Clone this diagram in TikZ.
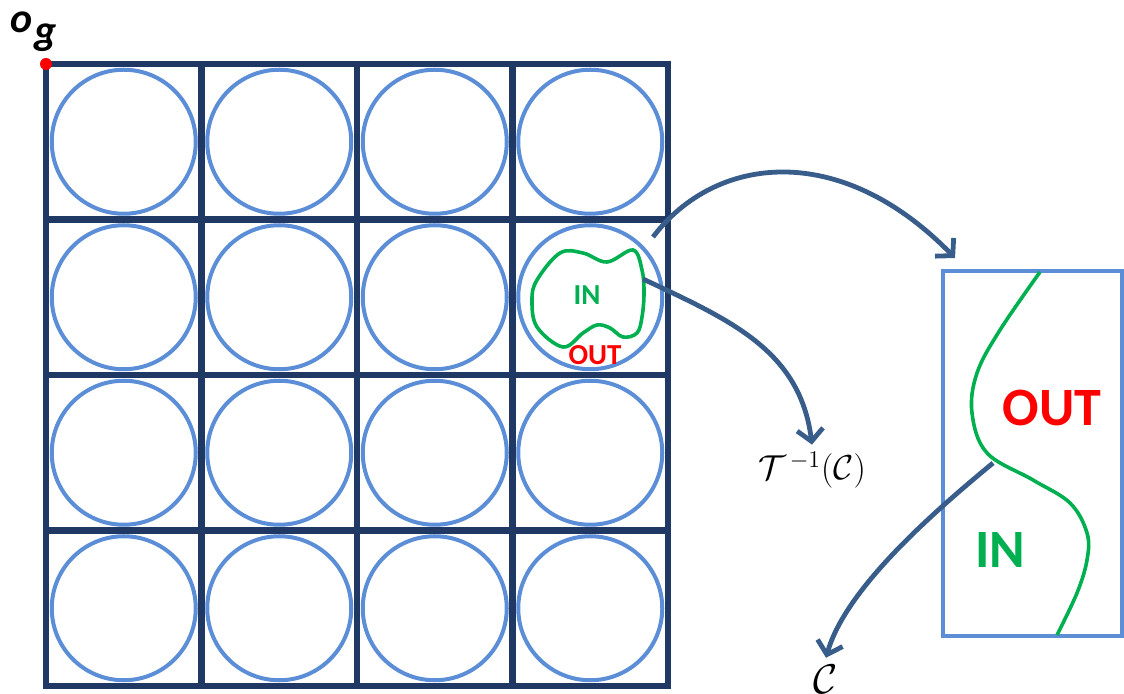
\documentclass[tikz,border=0pt]{standalone}
\usepackage{amsmath}
\usepackage{fontspec}
\setmainfont{Carlito}
\usetikzlibrary{arrows.meta,positioning,calc}
\definecolor{gridnavy}{RGB}{31,56,100}
\definecolor{cellblue}{RGB}{91,142,214}
\definecolor{arrowblue}{RGB}{56,93,138}
\definecolor{ingreen}{RGB}{0,176,80}
\definecolor{outred}{RGB}{255,0,0}
\tikzset{
  gridline/.style={gridnavy,line width=3.1pt,line cap=rect},
  cellcircle/.style={cellblue,line width=2pt},
  maparrow/.style={->,arrowblue,line width=2.4pt},
  boundary/.style={ingreen,line width=1.8pt},
  smalltag/.style={font=\fontsize{14.5}{14.5}\selectfont\bfseries,inner sep=0pt},
  bigtag/.style={font=\fontsize{27}{27}\selectfont\bfseries,inner sep=0pt}
}
\begin{document}
\begin{tikzpicture}[x=0.5pt,y=-0.5pt,>={Straight Barb[length=6pt,width=13pt]}]
\useasboundingbox (0,0) rectangle (1124,694);
% grid of cells
\foreach \k in {0,...,4} {
  \draw[gridline] (46+155.5*\k,64)--(46+155.5*\k,686);
  \draw[gridline] (46,64+155.5*\k)--(668,64+155.5*\k);
}
\foreach \i in {0,...,3} {
  \foreach \j in {0,...,3} {\draw[cellcircle] (123.75+155.5*\i,141.75+155.5*\j) circle (72);}
}
% origin
\fill[outred] (46,64) circle (6);
\node[anchor=base west,inner sep=0pt,font=\fontsize{21}{21}\selectfont\bfseries\itshape] (og) at (10,33) {o\kern1pt\raisebox{-6pt}{g}};
% object in one cell
\draw[boundary] plot[smooth cycle,tension=0.6] coordinates {(537,280) (560,253) (583,253) (607,262) (633,250) (642,270) (644,293) (642,317) (637,333) (623,337) (610,328) (597,325) (583,333) (563,347) (537,327) (532,300)};
\node[smalltag,text=ingreen] (cellin) at (587,295) {IN};
\node[smalltag,text=outred] (cellout) at (595,355) {OUT};
% zoomed cell
\node[draw=cellblue,line width=2.4pt,minimum width=89.5pt,minimum height=182.5pt,inner sep=0pt] (zoom) at (1032.5,453.5) {};
\draw[boundary] plot[smooth,tension=0.6] coordinates {(1040,272) (1000,330) (977,373) (972,413) (987,453) (1033,480) (1070,503) (1087,533) (1087,560) (1077,593) (1057,635)};
\node[bigtag,text=outred] (zoomout) at (1052,408) {OUT};
\node[bigtag,text=ingreen] (zoomin) at (1000,550) {IN};
% labels
\node[font=\fontsize{18}{18}\selectfont] (tinv) at (812,470) {$\mathcal{T}^{\,-1}(\mathcal{C})$};
\node[font=\fontsize{20}{20}\selectfont] (cset) at (826,679) {$\mathcal{C}$};
% mappings
\coordinate (a1s) at (653,237);
\coordinate (a1e) at (955,258);
\coordinate (a2s) at (643,279);
\coordinate (a3s) at (993,463);
\draw[maparrow] (a1s) .. controls (715,155) and (840,140) .. (a1e);
\draw[maparrow] (a2s) .. controls (730,320) and (800,350) .. (tinv.north);
\draw[maparrow] (a3s) .. controls (930,515) and (845,590) .. (cset.north);
\end{tikzpicture}
\end{document}
